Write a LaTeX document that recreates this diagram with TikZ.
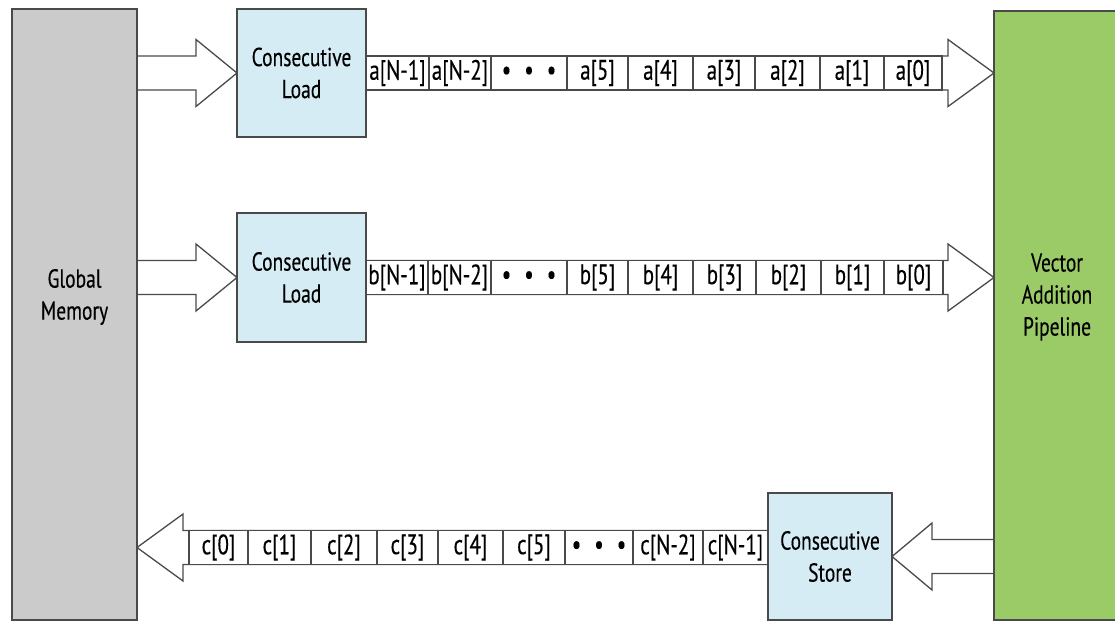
\documentclass[tikz,border=0pt]{standalone}
\usepackage{fontspec}
\setmainfont{PT Sans}[FakeStretch=0.75, FakeBold=0.3]
\usepackage{tikz}
\usetikzlibrary{calc, positioning, backgrounds}
\definecolor{memgray}{HTML}{CBCBCB}
\definecolor{loadblue}{HTML}{D5ECF4}
\definecolor{pipegreen}{HTML}{9ACB67}
\definecolor{edgegray}{HTML}{4A4A4A}
\newcommand{\fatarrow}[3]{%
  \draw[fatline] let \p1=(#1), \p2=(#2) in
    (\x1,\y1+17pt) -- ({\x2-(#3)},\y1+17pt) -- ({\x2-(#3)},\y1+33.5pt) -- (\x2,\y1)
    -- ({\x2-(#3)},\y1-33.5pt) -- ({\x2-(#3)},\y1-17pt) -- (\x1,\y1-17pt);%
}
\newcommand{\celldots}{\textbullet\hspace{13pt}\textbullet\hspace{13pt}\textbullet}

\begin{document}
\begin{tikzpicture}[x=1pt, y=-1pt,
    boxtext/.style={align=center, inner sep=0pt, font={\fontsize{26}{32}\selectfont}},
    membox/.style={draw=edgegray, line width=1.6pt, fill=memgray, inner sep=0pt, outer sep=0pt},
    pipebox/.style={membox, fill=pipegreen},
    loadbox/.style={membox, fill=loadblue, boxtext},
    fatline/.style={draw=edgegray, line width=1.3pt, fill=white},
    cell/.style={draw=edgegray, line width=1.3pt, fill=white, minimum height=34pt,
      inner sep=0pt, outer sep=0pt, font={\fontsize{28}{30}\selectfont}}]
  \useasboundingbox (0,0) rectangle (1115,621);

  % Memory and pipeline
  \node[membox, minimum width=125pt, minimum height=611pt] (mem) at (74.5,314.5) {};
  \node[boxtext] (memlabel) at (74.5,297) {Global\\Memory};
  \node[pipebox, minimum width=126pt, minimum height=609pt] (vap) at (1057,315.5) {};
  \node[boxtext] (vaplabel) at (1057,297) {Vector\\Addition\\Pipeline};

  % Load and store units
  \node[loadbox, minimum width=129pt, minimum height=128pt] (lda) at (301.5,73) {Consecutive\\Load};
  \node[loadbox, minimum width=129pt, minimum height=129pt] (ldb) at (301.5,277.5) {Consecutive\\Load};
  \node[loadbox, minimum width=124pt, minimum height=127pt] (sto) at (830,556.5) {Consecutive\\Store};
  \coordinate (cstart) at ($(sto.west)+(0,-9)$);

  % Block arrows
  \begin{pgfonlayer}{background}
    \fatarrow{mem.east |- lda.west}{lda.west}{41pt}
    \fatarrow{mem.east |- ldb.west}{ldb.west}{41pt}
    \fatarrow{lda.east}{vap.west |- lda.east}{46pt}
    \fatarrow{ldb.east}{vap.west |- ldb.east}{46pt}
    \fatarrow{vap.west |- sto.east}{sto.east}{-40pt}
    \fatarrow{cstart}{mem.east |- cstart}{-46pt}
  \end{pgfonlayer}

  % Streams of elements
  \foreach \l/\r/\txt [count=\i] in {366/429/{a[N-1]}, 429/491/{a[N-2]}, 491/567/\celldots,
      567/628/{a[5]}, 628/693/{a[4]}, 693/755/{a[3]}, 755/820/{a[2]}, 820/884/{a[1]}, 884/942/{a[0]}}
    \node[cell, minimum width={(\r-\l)*1pt}] (a\i) at ({(\l+\r)/2},73) {\txt};
  \foreach \l/\r/\txt [count=\i] in {366/428/{b[N-1]}, 428/491/{b[N-2]}, 491/567/\celldots,
      567/628/{b[5]}, 628/693/{b[4]}, 693/756/{b[3]}, 756/821/{b[2]}, 821/884/{b[1]}, 884/943/{b[0]}}
    \node[cell, minimum width={(\r-\l)*1pt}] (b\i) at ({(\l+\r)/2},277.5) {\txt};
  \foreach \l/\r/\txt [count=\i] in {189/248/{c[0]}, 248/311/{c[1]}, 311/377/{c[2]}, 377/438/{c[3]},
      438/503/{c[4]}, 503/565/{c[5]}, 565/633/\celldots, 633/703/{c[N-2]}, 703/768/{c[N-1]}}
    \node[cell, minimum width={(\r-\l)*1pt}] (c\i) at ({(\l+\r)/2},547.5) {\txt};
\end{tikzpicture}
\end{document}
